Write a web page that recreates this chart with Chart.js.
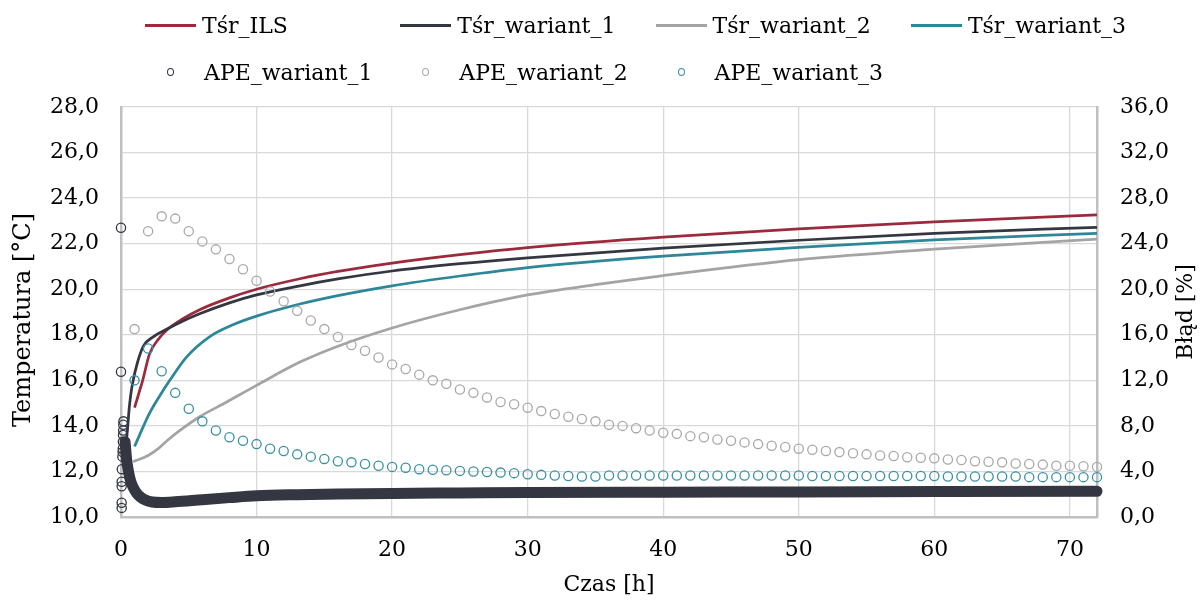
<!DOCTYPE html>
<html lang="pl">
<head>
<meta charset="utf-8">
<title>Temperatura średnia i błąd APE</title>
<script src="https://cdn.jsdelivr.net/npm/chart.js@4.4.0/dist/chart.umd.min.js"></script>
<style>
  html, body { margin: 0; padding: 0; background: #fff; }
  #wrap { position: relative; width: 1200px; height: 601px; }
  #chart { position: absolute; left: 0; top: 0; }
  .leg { position: absolute; display: flex; align-items: center; height: 30px;
         font: 22px 'DejaVu Serif', serif; color: #000; white-space: nowrap; }
  .leg .line { width: 51px; height: 3px; margin-right: 6px; }
  .leg .dot { width: 51px; display: flex; justify-content: center; margin-right: 8px; }
  .leg .dot span { width: 5px; height: 6px; border: 1.2px solid; border-radius: 50%; }
</style>
</head>
<body>
<div id="wrap">
  <canvas id="chart" width="1200" height="601"></canvas>
</div>
<script>
// nazwy serii
const seriesNames = ['Tśr_ILS', 'Tśr_wariant_1', 'Tśr_wariant_2', 'Tśr_wariant_3',
                     'APE_wariant_1', 'APE_wariant_2', 'APE_wariant_3'];

// Tśr_ILS [°C]
const ilsT = [1, 1.3, 1.6, 2.1, 2.75, 3.6, 4.5, 5.8, 8, 10, 13.2, 16, 20, 25, 30, 40, 50, 60, 72];
const ilsV = [14.8, 15.4, 16.0, 17.15, 17.8, 18.32, 18.68, 19.1, 19.62, 20.0, 20.46, 20.78, 21.15, 21.52, 21.83, 22.29, 22.65, 22.96, 23.26];

// Tśr_wariant_1 [°C]
const w1T = [0.2, 0.35, 0.47, 0.61, 0.75, 0.9, 1.2, 1.65, 2.4, 3.4, 4.5, 5.8, 8, 10, 13.2, 16, 20, 25, 30, 40, 50, 60, 72];
const w1V = [12.7, 13.2, 13.8, 14.8, 15.5, 16.0, 16.75, 17.5, 17.92, 18.25, 18.58, 18.92, 19.4, 19.75, 20.15, 20.45, 20.8, 21.12, 21.38, 21.8, 22.15, 22.45, 22.72];

// Tśr_wariant_2 [°C]
const w2T = [0.9, 2, 2.75, 3.5, 4.35, 5.8, 7.8, 10, 13.2, 16, 20, 25, 30, 35, 40, 50, 60, 72];
const w2V = [12.43, 12.7, 13.0, 13.4, 13.8, 14.4, 15.05, 15.78, 16.8, 17.5, 18.3, 19.1, 19.75, 20.2, 20.6, 21.3, 21.76, 22.2];

// Tśr_wariant_3 [°C]
const w3T = [1, 2.1, 2.9, 3.6, 4.8, 6.5, 8.3, 10, 13.2, 16, 20, 25, 30, 40, 50, 60, 72];
const w3V = [13.1, 14.55, 15.36, 16.0, 17.0, 17.9, 18.45, 18.82, 19.35, 19.72, 20.15, 20.58, 20.95, 21.45, 21.84, 22.17, 22.45];

// APE_wariant_1 [%] - pierwsze minuty (pojedyncze punkty)
const ape1StartT = [0, 0, 0.05, 0.05, 0.05, 0.05, 0.06, 0.1, 0.12, 0.13, 0.14, 0.15, 0.16, 0.17, 0.18];
const ape1StartV = [25.4, 12.75, 0.8, 1.25, 2.7, 3.1, 4.2, 5.3, 5.7, 6.0, 6.6, 7.2, 7.6, 8.1, 8.4];
// APE_wariant_1 [%] - gęste punkty (pasmo)
const ape1T = [0.3, 0.42, 0.55, 0.7, 0.9, 1.15, 1.45, 1.8, 2.3, 3, 4, 6, 8, 10, 13, 16, 20, 25, 30, 40, 50, 60, 72];
const ape1V = [6.6, 5.0, 4.0, 3.2, 2.6, 2.1, 1.75, 1.5, 1.32, 1.27, 1.33, 1.52, 1.7, 1.86, 1.96, 2.02, 2.07, 2.11, 2.15, 2.18, 2.2, 2.23, 2.26];

// godziny dla APE_wariant_2 i APE_wariant_3
const hours = [1, 2, 3, 4, 5, 6, 7, 8, 9, 10, 11, 12, 13, 14, 15, 16, 17, 18, 19, 20, 21, 22, 23, 24,
               25, 26, 27, 28, 29, 30, 31, 32, 33, 34, 35, 36, 37, 38, 39, 40, 41, 42, 43, 44, 45, 46, 47, 48,
               49, 50, 51, 52, 53, 54, 55, 56, 57, 58, 59, 60, 61, 62, 63, 64, 65, 66, 67, 68, 69, 70, 71, 72];
const ape2V = [16.5, 25.1, 26.4, 26.2, 25.1, 24.2, 23.5, 22.65, 21.75, 20.75, 19.8, 18.95, 18.1, 17.25, 16.5, 15.8,
               15.1, 14.6, 14.0, 13.4, 13.0, 12.5, 12.0, 11.7, 11.2, 10.9, 10.5, 10.1, 9.9, 9.6, 9.3, 9.05,
               8.8, 8.6, 8.4, 8.1, 8.0, 7.8, 7.6, 7.4, 7.3, 7.1, 7.0, 6.8, 6.7, 6.55, 6.4, 6.25,
               6.15, 6.0, 5.9, 5.8, 5.7, 5.6, 5.5, 5.4, 5.35, 5.25, 5.2, 5.15, 5.05, 5.0, 4.9, 4.85,
               4.8, 4.7, 4.65, 4.6, 4.5, 4.5, 4.45, 4.4];
const ape3V = [12.0, 14.8, 12.8, 10.9, 9.5, 8.4, 7.6, 7.0, 6.7, 6.4, 6.0, 5.8, 5.5, 5.3, 5.1, 4.9,
               4.8, 4.65, 4.5, 4.4, 4.33, 4.2, 4.15, 4.1, 4.05, 4.0, 3.95, 3.9, 3.85, 3.75, 3.7, 3.65,
               3.6, 3.55, 3.55, 3.65, 3.65, 3.65, 3.65, 3.65, 3.65, 3.65, 3.65, 3.65, 3.65, 3.65, 3.65, 3.65,
               3.65, 3.65, 3.6, 3.6, 3.6, 3.6, 3.6, 3.6, 3.6, 3.6, 3.6, 3.6, 3.55, 3.55, 3.55, 3.55,
               3.55, 3.55, 3.5, 3.5, 3.5, 3.5, 3.5, 3.5];

// kolory
const RED = '#9c2a3d', DARK = '#343642', GRAY = '#a3a4a4', TEAL = '#2d8798';
const GRAY_PT = '#a8a8a8', TEAL_PT = '#3a90a2';

const pts = (xs, ys) => xs.map((x, i) => ({ x: x, y: ys[i] }));
const fmt = v => v.toFixed(1).replace('.', ',');
const FONT = 'DejaVu Serif';

// legenda w HTML (siatka jak w Excelu)
const legendItems = [
    { name: seriesNames[0], kind: 'line', color: RED, col: 0, row: 0 },
    { name: seriesNames[1], kind: 'line', color: DARK, col: 1, row: 0 },
    { name: seriesNames[2], kind: 'line', color: GRAY, col: 2, row: 0 },
    { name: seriesNames[3], kind: 'line', color: TEAL, col: 3, row: 0 },
    { name: seriesNames[4], kind: 'dot', color: DARK, col: 0, row: 1 },
    { name: seriesNames[5], kind: 'dot', color: GRAY_PT, col: 1, row: 1 },
    { name: seriesNames[6], kind: 'dot', color: TEAL_PT, col: 2, row: 1 }
];
const wrap = document.getElementById('wrap');
legendItems.forEach(it => {
    const el = document.createElement('div');
    el.className = 'leg';
    el.style.left = (145 + it.col * 255.3) + 'px';
    el.style.top = (it.row === 0 ? 10 : 57) + 'px';
    const mark = document.createElement('div');
    if (it.kind === 'line') {
        mark.className = 'line';
        mark.style.background = it.color;
    } else {
        mark.className = 'dot';
        const s = document.createElement('span');
        s.style.borderColor = it.color;
        mark.appendChild(s);
    }
    const txt = document.createElement('span');
    txt.textContent = it.name;
    el.appendChild(mark);
    el.appendChild(txt);
    wrap.appendChild(el);
});

// tytuły osi pionowych (oba czytane od dołu, jak w oryginale)
const axisTitles = {
    id: 'axisTitles',
    afterDraw(chart) {
        const ctx = chart.ctx;
        const drawV = (text, x, y, size) => {
            ctx.save();
            ctx.translate(x, y);
            ctx.rotate(-Math.PI / 2);
            ctx.font = size + 'px "' + FONT + '"';
            ctx.fillStyle = '#000';
            ctx.textAlign = 'center';
            ctx.textBaseline = 'middle';
            ctx.fillText(text, 0, 0);
            ctx.restore();
        };
        drawV('Temperatura [°C]', 24, 320, 24);
        drawV('Błąd [%]', 1186, 312, 22);
    }
};

Chart.defaults.font.family = FONT;
Chart.defaults.font.size = 22;
Chart.defaults.color = '#000';

const lineDs = (label, xs, ys, color, order) => ({
    label: label,
    data: pts(xs, ys),
    yAxisID: 'y',
    showLine: true,
    borderColor: color,
    backgroundColor: color,
    borderWidth: 2.75,
    pointRadius: 0,
    cubicInterpolationMode: 'monotone',
    order: order
});
const dotDs = (label, xs, ys, color, order) => ({
    label: label,
    data: pts(xs, ys),
    yAxisID: 'y1',
    showLine: false,
    borderColor: color,
    backgroundColor: 'rgba(0,0,0,0)',
    pointRadius: 4.6,
    pointBorderWidth: 1.3,
    clip: false,
    order: order
});

const ctx = document.getElementById('chart').getContext('2d');
window.tempChart = new Chart(ctx, {
    type: 'scatter',
    data: {
        datasets: [
            lineDs(seriesNames[0], ilsT, ilsV, RED, 7),
            lineDs(seriesNames[1], w1T, w1V, DARK, 6),
            lineDs(seriesNames[2], w2T, w2V, GRAY, 5),
            lineDs(seriesNames[3], w3T, w3V, TEAL, 4),
            {
                label: seriesNames[4],
                data: pts(ape1T, ape1V),
                yAxisID: 'y1',
                showLine: true,
                borderColor: DARK,
                borderWidth: 11,
                borderCapStyle: 'round',
                borderJoinStyle: 'round',
                pointRadius: 0,
                cubicInterpolationMode: 'monotone',
                clip: false,
                order: 3
            },
            dotDs(seriesNames[4], ape1StartT, ape1StartV, DARK, 3),
            dotDs(seriesNames[5], hours, ape2V, GRAY_PT, 2),
            dotDs(seriesNames[6], hours, ape3V, TEAL_PT, 1)
        ]
    },
    options: {
        responsive: false,
        animation: false,
        devicePixelRatio: 1,
        layout: { padding: { top: 107, left: 0, right: 0, bottom: 0 } },
        plugins: {
            legend: { display: false },
            tooltip: { enabled: false }
        },
        scales: {
            x: {
                type: 'linear',
                min: 0,
                max: 72,
                ticks: { stepSize: 10, includeBounds: false, padding: 20, font: { size: 22 } },
                grid: { color: '#d9d9d9', lineWidth: 1.3, drawTicks: false },
                border: { color: '#bfbfbf', width: 2.5 },
                title: { display: true, text: 'Czas [h]', font: { size: 22 }, padding: { top: 0, bottom: 3 } },
                afterFit(s) { s.height = 84; }
            },
            y: {
                position: 'left',
                min: 10,
                max: 28,
                ticks: { stepSize: 2, padding: 22, font: { size: 22 }, callback: v => fmt(v) },
                grid: { color: '#d9d9d9', lineWidth: 1.3, drawTicks: false },
                border: { color: '#bfbfbf', width: 2.5 },
                afterFit(s) { s.width = 121; }
            },
            y1: {
                position: 'right',
                min: 0,
                max: 36,
                ticks: { stepSize: 4, padding: 23, font: { size: 22 }, callback: v => fmt(v) },
                grid: { drawOnChartArea: false, drawTicks: false },
                border: { color: '#bfbfbf', width: 2.5 },
                afterFit(s) { s.width = 103; }
            }
        }
    },
    plugins: [axisTitles]
});
</script>
</body>
</html>
